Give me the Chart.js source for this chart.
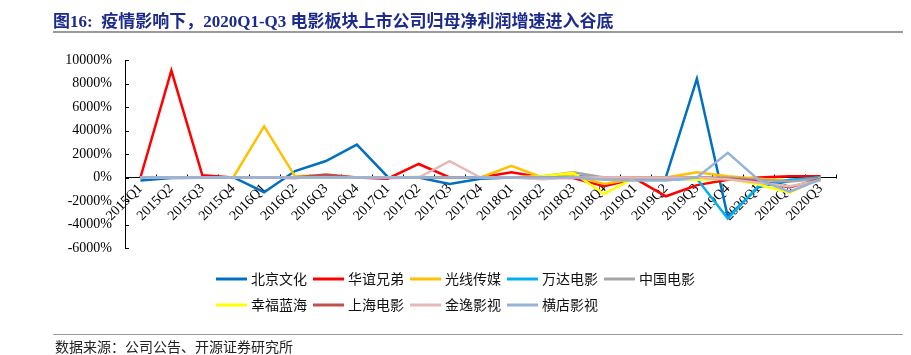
<!DOCTYPE html>
<html><head><meta charset="utf-8">
<script src="https://cdn.jsdelivr.net/npm/chart.js@4.4.0/dist/chart.umd.min.js"></script>
<style>
html,body{margin:0;padding:0;background:#fff;}
#wrap{position:relative;width:911px;height:355px;overflow:hidden;background:#fff}
#title{position:absolute;left:53px;top:7px;font-weight:bold;font-size:17px;font-family:"Liberation Serif","Noto Sans CJK SC",serif;color:#1b2a8c;white-space:nowrap}
#tline{position:absolute;left:53px;top:31px;width:850px;height:2px;background:#9a9a9a}
#fline{position:absolute;left:53px;top:334px;width:850px;height:1px;background:#9a9a9a}
#foot{position:absolute;left:55px;top:336px;font-size:14px;font-family:"Noto Sans CJK SC",sans-serif;color:#222;white-space:nowrap}
canvas{position:absolute;left:0;top:0}
</style></head>
<body><div id="wrap">
<canvas id="c" width="911" height="355"></canvas>
<div id="title">图16:&nbsp; 疫情影响下，2020Q1-Q3 电影板块上市公司归母净利润增速进入谷底</div>
<div id="tline"></div>
<div id="fline"></div>
<div id="foot">数据来源：公司公告、开源证券研究所</div>
</div>
<script>
const categories = ['2015Q1','2015Q2','2015Q3','2015Q4','2016Q1','2016Q2','2016Q3','2016Q4','2017Q1','2017Q2','2017Q3','2017Q4','2018Q1','2018Q2','2018Q3','2018Q4','2019Q1','2019Q2','2019Q3','2019Q4','2020Q1','2020Q2','2020Q3'];
const seriesNames = ['北京文化','华谊兄弟','光线传媒','万达电影','中国电影','幸福蓝海','上海电影','金逸影视','横店影视'];
const beijingWenhua = [-250,-50,-20,30,-1250,550,1400,2800,50,0,-550,-100,0,0,100,0,-100,50,8400,-3350,-800,-300,-50];
const huayiXiongdi  = [0,9100,200,0,0,-50,100,0,-100,1150,0,0,450,0,-50,-750,-100,-1600,-650,-200,0,100,100];
const guangxianChuanmei = [0,0,0,0,4350,100,200,0,0,50,-50,0,1000,0,150,-550,-100,0,450,100,-100,-250,0];
const wandaDianying = [0,0,0,0,0,0,0,0,0,0,0,0,0,0,0,0,-200,-200,-100,-3500,-700,-200,0];
const zhongguoDianying = [0,0,0,0,0,0,0,0,0,0,0,0,0,100,450,0,0,0,0,0,-200,-350,-100];
const xingfuLanhai = [0,0,0,0,0,0,0,0,0,0,0,0,0,100,400,-1400,0,-50,-200,-100,-600,-1300,-50];
const shanghaiDianying = [0,0,0,0,0,0,250,0,-50,0,0,0,0,0,0,-100,0,0,0,-100,-300,-850,-100];
const jinyiYingshi = [0,0,0,0,0,0,0,0,0,0,1400,0,0,-150,0,0,0,0,0,-150,-450,-750,-250];
const hengdianYingshi = [0,0,0,0,0,0,0,0,0,0,0,0,0,0,0,-200,-250,-250,0,2100,-200,-1200,-150];
const yTickValues = [-6000,-4000,-2000,0,2000,4000,6000,8000,10000];

const seriesData = [beijingWenhua,huayiXiongdi,guangxianChuanmei,wandaDianying,zhongguoDianying,xingfuLanhai,shanghaiDianying,jinyiYingshi,hengdianYingshi];
const seriesColors = ['#0070C0','#FF0000','#FFC000','#00B0F0','#A5A5A5','#FFFF00','#C0504D','#E6B9B8','#95B3D7'];

const innerTicks = {
  id:'innerTicks',
  beforeDatasetsDraw(chart){
    const {ctx, scales:{x,y}, chartArea} = chart;
    ctx.save();
    ctx.strokeStyle = '#000'; ctx.lineWidth = 1;
    y.ticks.forEach((t,i)=>{
      const py = Math.round(y.getPixelForTick(i)) + 0.5;
      ctx.beginPath(); ctx.moveTo(chartArea.left, py); ctx.lineTo(chartArea.left + 4, py); ctx.stroke();
    });
    const y0 = Math.round(y.getPixelForValue(0)) + 0.5;
    for (let i = 1; i <= categories.length; i++){
      const px = Math.round(x.getPixelForValue(i - 0.5)) + 0.5;
      ctx.beginPath(); ctx.moveTo(px, y0); ctx.lineTo(px, y0 - 4); ctx.stroke();
    }
    ctx.restore();
  }
};

const gridLegend = {
  id:'gridLegend',
  afterDraw(chart){
    const {ctx} = chart;
    ctx.save();
    ctx.font = '14px "Noto Sans CJK SC"';
    ctx.textBaseline = 'middle';
    ctx.fillStyle = '#111';
    chart.data.datasets.forEach((ds,i)=>{
      const col = i % 5, row = Math.floor(i / 5);
      const lx = 216 + col * 97, ly = 279 + row * 26;
      ctx.strokeStyle = ds.borderColor; ctx.lineWidth = 3;
      ctx.beginPath(); ctx.moveTo(lx, ly); ctx.lineTo(lx + 31, ly); ctx.stroke();
      ctx.fillText(ds.label, lx + 35, ly);
    });
    ctx.restore();
  }
};

new Chart(document.getElementById('c'), {
  type:'line',
  data:{
    labels: categories,
    datasets: seriesNames.map((n,i)=>({
      label:n, data:seriesData[i], borderColor:seriesColors[i], backgroundColor:seriesColors[i],
      borderWidth:2.5, pointRadius:0, tension:0, fill:false, order: seriesNames.length - i
    }))
  },
  options:{
    responsive:false, animation:false,
    layout:{padding:{left:65, top:60, right:75, bottom:107}},
    plugins:{legend:{display:false}, tooltip:{enabled:false}, title:{display:false}},
    scales:{
      x:{
        type:'category', position:{y:0}, offset:true,
        grid:{display:true, drawOnChartArea:false, drawTicks:false},
        border:{display:true, color:'#000', width:1},
        ticks:{autoSkip:false, maxRotation:45, minRotation:45, padding:3, color:'#000', font:{family:'Liberation Serif', size:14}}
      },
      y:{
        min:-6000, max:10000,
        afterBuildTicks(s){ s.ticks = yTickValues.map(v=>({value:v})); },
        afterFit(s){ s.width = 60; },
        grid:{display:true, drawOnChartArea:false, drawTicks:false},
        border:{display:true, color:'#000', width:1},
        ticks:{padding:13, color:'#000', font:{family:'Liberation Serif', size:14}, callback:v=>v+'%'}
      }
    }
  },
  plugins:[innerTicks, gridLegend]
});
</script>
</body></html>
